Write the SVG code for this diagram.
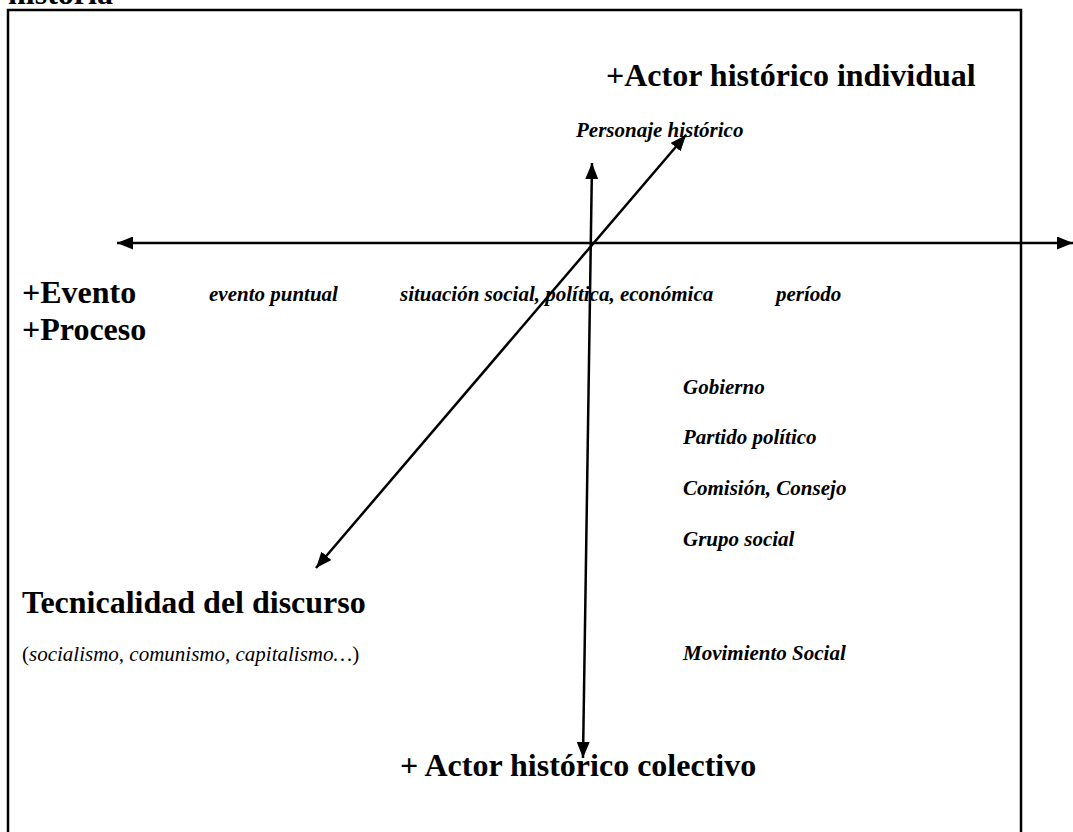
<svg xmlns="http://www.w3.org/2000/svg" width="1073" height="832" viewBox="0 0 1073 832">
<style>
.h{font-family:"Liberation Serif","Times New Roman",serif;font-weight:bold;font-size:32px;fill:#000}
.i{font-family:"Liberation Serif","Times New Roman",serif;font-weight:bold;font-style:italic;font-size:21px;fill:#000}
.p{font-family:"Liberation Serif","Times New Roman",serif;font-style:italic;font-size:21px;fill:#000}
.ax{stroke:#000;stroke-width:2.5;fill:none}
</style>
<defs>
<marker id="ah" viewBox="0 0 16 13" refX="16" refY="6.5" markerWidth="16" markerHeight="13" markerUnits="userSpaceOnUse" orient="auto-start-reverse">
<path d="M0,0 L16,6.5 L0,13 Z" fill="#000"/>
</marker>
</defs>
<rect width="1073" height="832" fill="#fff"/>
<text class="h" x="8" y="4">historia</text>
<path d="M8,840 V10 H1021 V840" stroke="#000" stroke-width="2.5" fill="none"/>
<g id="connectors">
<line class="ax" x1="117" y1="243" x2="1073" y2="243" marker-start="url(#ah)" marker-end="url(#ah)"/>
<line class="ax" x1="592" y1="163" x2="583" y2="758" marker-start="url(#ah)" marker-end="url(#ah)"/>
<line class="ax" x1="686" y1="135" x2="316" y2="568" marker-start="url(#ah)" marker-end="url(#ah)"/>
</g>
<g id="actor-individual"><text class="h" x="606" y="86">+Actor histórico individual</text></g>
<g id="personaje"><text class="i" x="576" y="137">Personaje histórico</text></g>
<g id="evento-proceso"><text class="h" x="22" y="303">+Evento</text><text class="h" x="22" y="340">+Proceso</text></g>
<g id="evento-puntual"><text class="i" x="209" y="301">evento puntual</text></g>
<g id="situacion"><text class="i" x="400" y="301">situación social, política, económica</text></g>
<g id="periodo"><text class="i" x="776" y="301">período</text></g>
<g id="gobierno"><text class="i" x="683" y="394">Gobierno</text></g>
<g id="partido"><text class="i" x="683" y="444">Partido político</text></g>
<g id="comision"><text class="i" x="683" y="495">Comisión, Consejo</text></g>
<g id="grupo"><text class="i" x="683" y="546">Grupo social</text></g>
<g id="movimiento"><text class="i" x="683" y="660">Movimiento Social</text></g>
<g id="tecnicalidad"><text class="h" x="22" y="613">Tecnicalidad del discurso</text></g>
<g id="ismos"><text class="p" x="22" y="661"><tspan font-style="normal">(</tspan>socialismo, comunismo, capitalismo…<tspan font-style="normal">)</tspan></text></g>
<g id="actor-colectivo"><text class="h" x="400" y="776">+ Actor histórico colectivo</text></g>
</svg>
